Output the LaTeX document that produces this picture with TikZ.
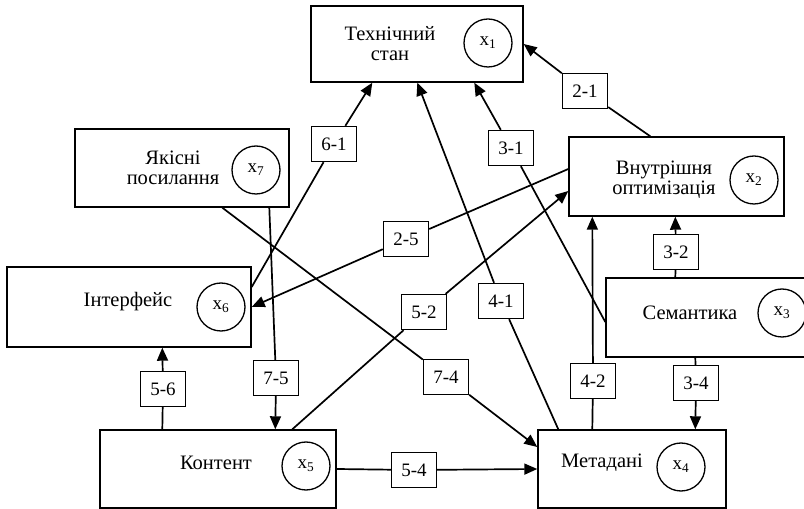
\documentclass[tikz,border=0pt]{standalone}
\usepackage{fontspec}
\setmainfont{Liberation Serif}
\usetikzlibrary{arrows.meta,positioning}

\begin{document}
\begin{tikzpicture}[x=1pt,y=1pt,
  blok/.style={draw,line width=1.4pt,inner sep=0pt},
  napys/.style={font=\fontsize{20.5}{20}\selectfont,align=center,inner sep=0pt},
  kolo/.style={draw,circle,line width=1.3pt,minimum size=48pt,inner sep=0pt,font=\fontsize{19}{19}\selectfont},
  mitka/.style={draw,line width=1.4pt,minimum width=45pt,minimum height=35pt,inner sep=0pt,font=\fontsize{19}{19}\selectfont},
  zv/.style={line width=1.7pt},
  str/.style={zv,-{Triangle[length=13pt,width=11pt]}}]
\useasboundingbox (0,0) rectangle (804,509);
\clip (0,0) rectangle (804,509);
% factors
\node[blok,minimum width=212pt,minimum height=76pt] (X_1) at (417,465) {};
\node[blok,minimum width=215pt,minimum height=79pt] (X_2) at (676.5,332.5) {};
\node[blok,minimum width=206pt,minimum height=79pt] (X_3) at (709,191.5) {};
\node[blok,minimum width=188pt,minimum height=78pt] (X_4) at (632,40) {};
\node[blok,minimum width=236pt,minimum height=78pt] (X_5) at (218,40) {};
\node[blok,minimum width=244pt,minimum height=80pt] (X_6) at (129,202) {};
\node[blok,minimum width=214pt,minimum height=78pt] (X_7) at (182,341) {};
\node[napys] (t_1) at (390,465) {Технічний\\стан};
\node[napys] (t_2) at (664,329) {Внутрішня\\оптимізація};
\node[napys] (t_3) at (690,196) {Семантика};
\node[napys] (t_4) at (602,46) {Метадані};
\node[napys] (t_5) at (216,46) {Контент};
\node[napys] (t_6) at (128,207) {Інтерфейс};
\node[napys] (t_7) at (173,341) {Якісні\\посилання};
\node[kolo] (k_1) at (488,466) {x\textsubscript{1}};
\node[kolo] (k_2) at (754,329) {x\textsubscript{2}};
\node[kolo] (k_3) at (782,196) {x\textsubscript{3}};
\node[kolo] (k_4) at (681,42) {x\textsubscript{4}};
\node[kolo] (k_5) at (306,43) {x\textsubscript{5}};
\node[kolo] (k_6) at (221,202) {x\textsubscript{6}};
\node[kolo] (k_7) at (256,339) {x\textsubscript{7}};
% links
\node[mitka] (e_21) at (585,418) {2-1};
\node[mitka] (e_61) at (334,365) {6-1};
\node[mitka] (e_31) at (511,361) {3-1};
\node[mitka] (e_41) at (501,208) {4-1};
\node[mitka] (e_25) at (406,270) {2-5};
\node[mitka] (e_52) at (424,197) {5-2};
\node[mitka] (e_32) at (676,257) {3-2};
\node[mitka] (e_42) at (593,128) {4-2};
\node[mitka] (e_34) at (696,126) {3-4};
\node[mitka] (e_74) at (446,132) {7-4};
\node[mitka] (e_75) at (276,131) {7-5};
\node[mitka] (e_56) at (163,120) {5-6};
\node[mitka] (e_54) at (414,39) {5-4};
\path
  ([xshift=82pt]X_2.north west) edge[zv] (e_21)
  (e_21) edge[str] (X_1.east)
  ([yshift=20pt]X_6.east) edge[zv] (e_61)
  (e_61) edge[str] ([xshift=62pt]X_1.south west)
  ([yshift=-4.5pt]X_3.west) edge[zv] (e_31)
  (e_31) edge[str] ([xshift=164pt]X_1.south west)
  ([xshift=21pt]X_4.north west) edge[zv] (e_41)
  (e_41) edge[str] ([xshift=107pt]X_1.south west)
  ([yshift=7.5pt]X_2.west) edge[zv] (e_25)
  (e_25) edge[str] (X_6.east)
  ([xshift=193pt]X_5.north west) edge[zv] (e_52)
  (e_52) edge[str] ([yshift=-14.5pt]X_2.west)
  ([xshift=70pt]X_3.north west) edge[zv] (e_32)
  (e_32) edge[str] ([xshift=107pt]X_2.south west)
  ([xshift=55pt]X_4.north west) edge[zv] (e_42)
  (e_42) edge[str] ([xshift=24pt]X_2.south west)
  ([xshift=90pt]X_3.south west) edge[zv] (e_34)
  (e_34) edge[str] ([xshift=158pt]X_4.north west)
  ([xshift=148pt]X_7.south west) edge[zv] (e_74)
  (e_74) edge[str] ([yshift=22pt]X_4.west)
  ([xshift=195pt]X_7.south west) edge[zv] (e_75)
  (e_75) edge[str] ([xshift=176pt]X_5.north west)
  ([xshift=63pt]X_5.north west) edge[zv] (e_56)
  (e_56) edge[str] ([xshift=156pt]X_6.south west)
  (X_5.east) edge[zv] (e_54)
  (e_54) edge[str] (X_4.west);
\end{tikzpicture}
\end{document}
